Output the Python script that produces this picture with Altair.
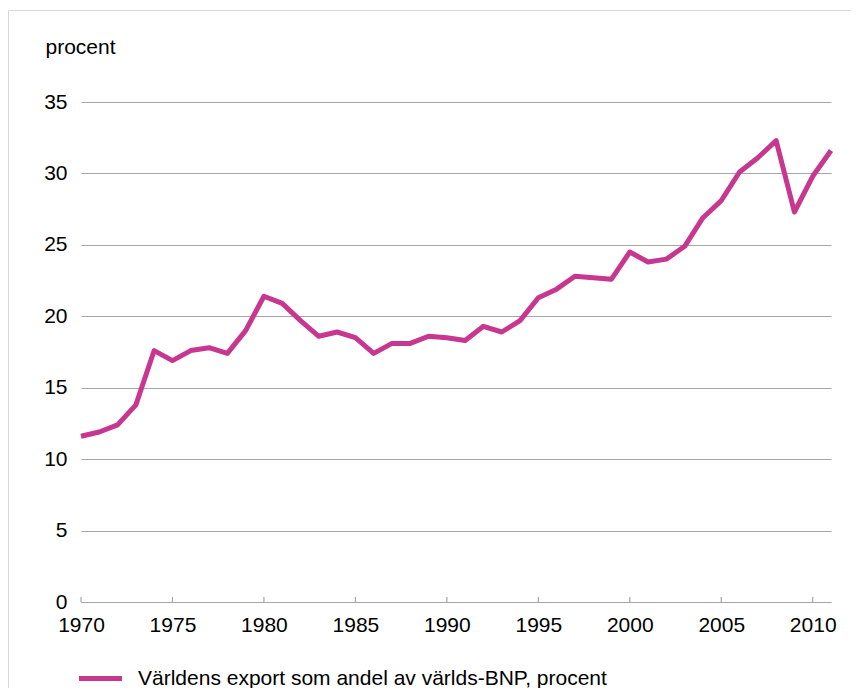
import altair as alt
import pandas as pd

years = list(range(1970, 2012))
values = [11.6, 11.9, 12.4, 13.8, 17.6, 16.9, 17.6, 17.8, 17.4, 19.0,
          21.4, 20.9, 19.7, 18.6, 18.9, 18.5, 17.4, 18.1, 18.1, 18.6,
          18.5, 18.3, 19.3, 18.9, 19.7, 21.3, 21.9, 22.8, 22.7, 22.6,
          24.5, 23.8, 24.0, 24.9, 26.9, 28.1, 30.1, 31.1, 32.3, 27.3,
          29.8, 31.6]
series_name = "Världens export som andel av världs-BNP, procent"
x_ticks = [1970, 1975, 1980, 1985, 1990, 1995, 2000, 2005, 2010]
y_ticks = [0, 5, 10, 15, 20, 25, 30, 35]

df = pd.DataFrame({"year": years, "value": values, "series": series_name})
ticks_df = pd.DataFrame({"year": x_ticks})

FONT = "Liberation Sans"
GRID = "#a6a6a6"
LINE = "#C8378F"

x_scale = alt.Scale(domain=[1970, 2011], nice=False, zero=False)

line = alt.Chart(df).mark_line(strokeWidth=5, strokeJoin="round").encode(
    x=alt.X("year:Q", scale=x_scale,
            axis=alt.Axis(values=x_ticks, format="d", title=None, grid=False,
                          ticks=False, domainColor=GRID, domainWidth=1.2,
                          labelFontSize=21, labelFont=FONT, labelColor="#000000",
                          labelPadding=12, labelFlush=False)),
    y=alt.Y("value:Q", scale=alt.Scale(domain=[0, 35], nice=False),
            axis=alt.Axis(values=y_ticks, title="procent", titleAngle=0,
                          titleX=-36, titleY=-55, titleAlign="left",
                          titleBaseline="middle", titleFont=FONT,
                          titleFontSize=21, titleFontWeight="normal",
                          titleColor="#000000",
                          domain=False, ticks=False, gridColor=GRID,
                          gridWidth=1.2, labelFontSize=21, labelFont=FONT,
                          labelColor="#000000", labelPadding=14)),
    color=alt.Color("series:N", scale=alt.Scale(range=[LINE]),
                    legend=alt.Legend(orient="none", legendX=-5, legendY=552,
                                      title=None, symbolType="stroke",
                                      symbolSize=1850, symbolStrokeWidth=5,
                                      labelFontSize=21, labelFont=FONT,
                                      labelColor="#000000", labelLimit=0,
                                      labelOffset=13)),
)

tick_marks = alt.Chart(ticks_df).mark_rule(color=GRID, strokeWidth=1.2).encode(
    x=alt.X("year:Q", scale=x_scale),
    y=alt.value(500),
    y2=alt.value(495),
)

frame = alt.Chart(pd.DataFrame({"a": [0]})).mark_rect(
    fillOpacity=0, stroke="#d9d9d9", strokeWidth=1
).encode(
    x=alt.value(-72.5), y=alt.value(-91.5), x2=alt.value(900), y2=alt.value(800)
)

chart = alt.layer(frame, tick_marks, line).properties(
    width=750, height=500,
    autosize=alt.AutoSizeParams(type="none"),
    padding={"left": 73, "top": 94, "right": 20, "bottom": 86},
).configure_view(stroke=None)

chart.save("out.html", embed_options={"renderer": "svg", "actions": False})
